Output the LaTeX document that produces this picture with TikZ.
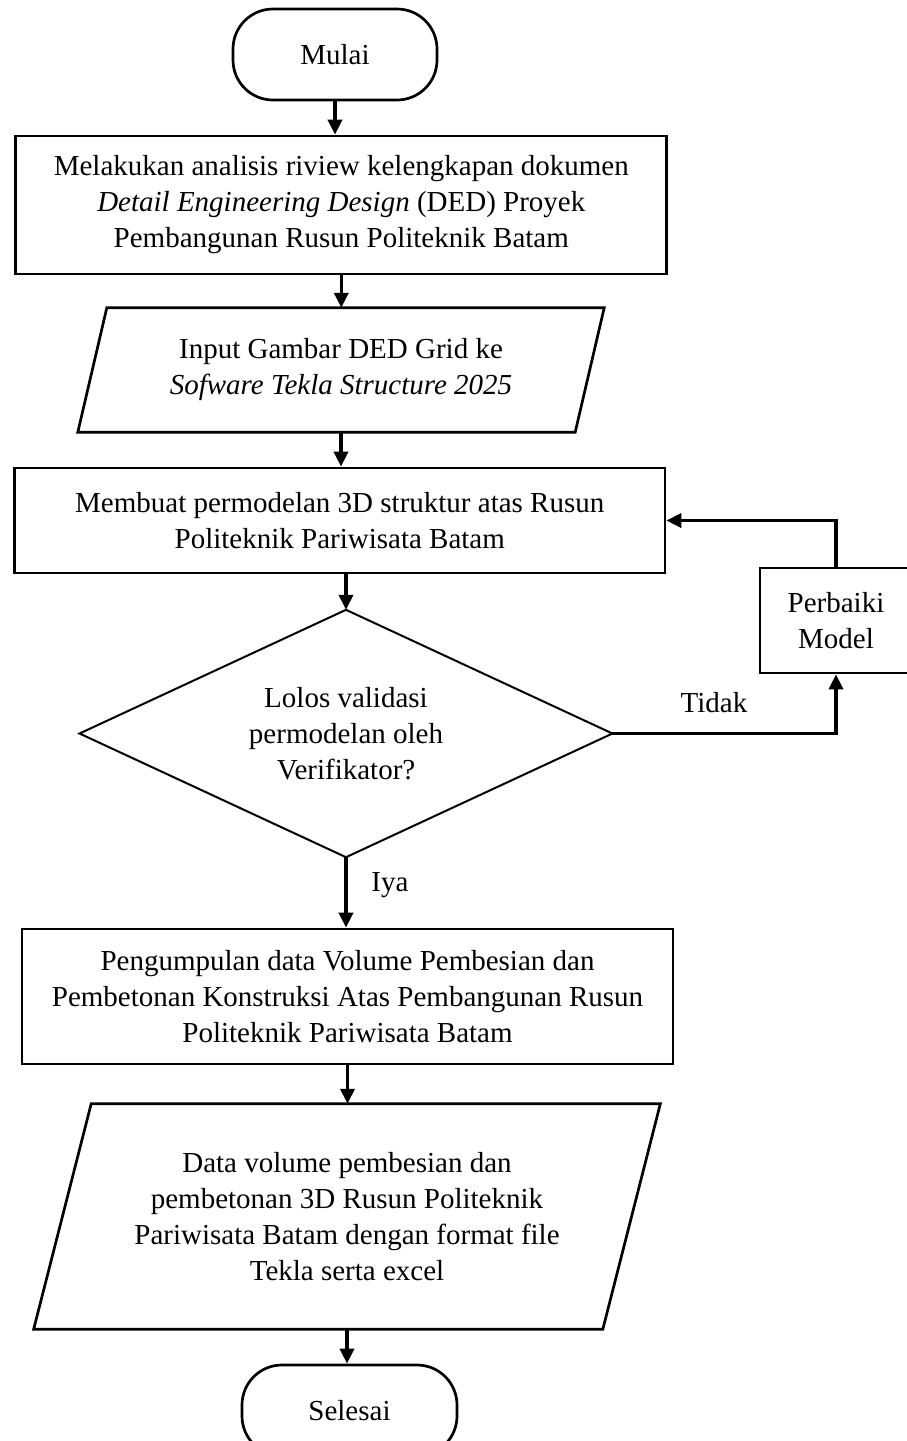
\documentclass[tikz,border=0pt]{standalone}
\usepackage{fontspec}
\setmainfont{Liberation Serif}
\usetikzlibrary{arrows.meta}
\begin{document}
\begin{tikzpicture}[x=1pt,y=-1pt,
  txt/.style={font=\fontsize{29}{36}\selectfont, align=center},
  procbox/.style={txt, draw, line width=2.7pt, inner sep=0pt},
  term/.style={procbox, rounded corners=40pt},
  shapebox/.style={txt, inner sep=0pt},
  outline/.style={draw, line width=2.7pt},
  flow/.style={line width=3.6pt, -{Triangle[length=15pt,width=14pt]}},
  lbl/.style={font=\fontsize{29}{36}\selectfont, inner sep=0pt}
]
\useasboundingbox (0,0) rectangle (907,1441);

\node[term, minimum width=204, minimum height=91] (m) at (335,54.5) {Mulai};

\node[procbox, minimum width=651, minimum height=138] (b1) at (341.3,205)
  {Melakukan analisis riview kelengkapan dokumen\\
   \textit{Detail Engineering Design} (DED) Proyek\\
   Pembangunan Rusun Politeknik Batam};

\node[shapebox, minimum width=497, minimum height=124] (p1) at (341,370)
  {Input Gambar DED Grid ke\\ \textit{Sofware Tekla Structure 2025}};
\draw[outline] ([xshift=14.5pt]p1.north west) -- ([xshift=14.5pt]p1.north east)
  -- ([xshift=-14.5pt]p1.south east) -- ([xshift=-14.5pt]p1.south west) -- cycle;

\node[procbox, minimum width=650.5, minimum height=105] (b2) at (339.75,520.5)
  {Membuat permodelan 3D struktur atas Rusun\\ Politeknik Pariwisata Batam};

\node[shapebox, minimum width=532.5, minimum height=247] (d) at (346,733.5)
  {Lolos validasi\\ permodelan oleh\\ Verifikator?};
\draw[outline, line width=2pt] (d.north) -- (d.east) -- (d.south) -- (d.west) -- cycle;

\node[procbox, minimum width=152, minimum height=105] (fix) at (836,620.5)
  {Perbaiki\\ Model};

\node[procbox, minimum width=651, minimum height=135] (b3) at (347.5,996.5)
  {Pengumpulan data Volume Pembesian dan\\
   Pembetonan Konstruksi Atas Pembangunan Rusun\\
   Politeknik Pariwisata Batam};

\node[shapebox, minimum width=568.75, minimum height=225] (p2) at (347,1216.5)
  {Data volume pembesian dan\\ pembetonan 3D Rusun Politeknik\\
   Pariwisata Batam dengan format file\\ Tekla serta excel};
\draw[outline] ([xshift=28.75pt]p2.north west) -- ([xshift=28.75pt]p2.north east)
  -- ([xshift=-28.75pt]p2.south east) -- ([xshift=-28.75pt]p2.south west) -- cycle;

\node[term, minimum width=215, minimum height=91] (s) at (349.5,1410.5) {Selesai};

% connectors
\draw[flow] (m.south) -- (m.south |- b1.north);
\draw[flow] (b1.south) -- (b1.south |- p1.north);
\draw[flow] (p1.south) -- (p1.south |- b2.north);
\draw[flow] (d.north |- b2.south) -- (d.north);
\draw[flow] (d.south) -- (d.south |- b3.north);
\draw[flow] (b3.south) -- (b3.south |- p2.north);
\draw[flow] (p2.south) -- (p2.south |- s.north);
\draw[flow] (d.east) -| (fix.south);
\draw[flow] (fix.north) |- (b2.east);

\node[lbl] (tidak) at (714,703) {Tidak};
\node[lbl] (iya) at (390,885) {Iya};
\end{tikzpicture}
\end{document}
